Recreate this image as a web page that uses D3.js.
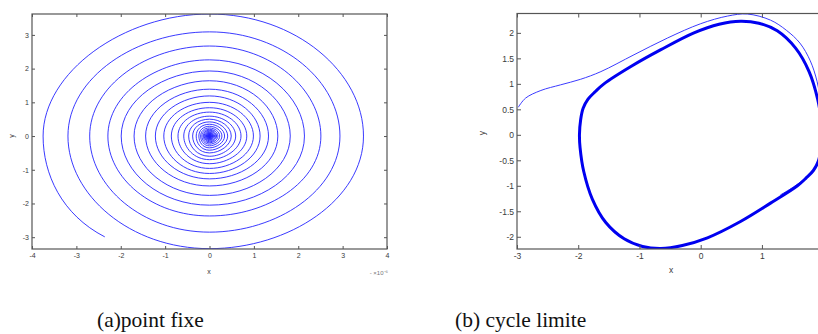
<!DOCTYPE html>
<html>
<head>
<meta charset="utf-8">
<script src="https://cdn.jsdelivr.net/npm/d3@7"></script>
<style>
  body { margin: 0; background: #fff; }
  svg { display: block; }
</style>
</head>
<body>
<svg id="chart" width="818" height="334"></svg>
<script>
// ---------- (a) point fixe : spiral phase portrait ----------
// Where the trajectory begins, then the axis crossings of every turn
const spiralStart = [-2.36, -2.99];
const spiralLeft   = [-3.75, -3.19, -2.70, -2.29, -1.99, -1.70, -1.44, -1.22, -1.03, -0.86, -0.71, -0.58, -0.47, -0.38, -0.30, -0.24, -0.20, -0.17, -0.14, -0.12, -0.10, -0.085, -0.072, -0.061, -0.052, -0.044, -0.037, -0.031, -0.026, -0.022, -0.019, -0.016, -0.013, -0.011];
const spiralTop    = [ 3.62,  3.09,  2.67,  2.26,  1.93,  1.64,  1.39,  1.19,  1.00,  0.84,  0.71,  0.59,  0.50,  0.42,  0.35,  0.29,  0.24,  0.20,  0.17,  0.145, 0.12,  0.10,   0.085,  0.072,  0.061,  0.052,  0.044,  0.037,  0.031,  0.026,  0.022,  0.019,  0.016,  0.013];
const spiralRight  = [ 3.47,  2.94,  2.51,  2.14,  1.82,  1.54,  1.33,  1.14,  0.99,  0.84,  0.71,  0.59,  0.49,  0.41,  0.34,  0.28,  0.23,  0.19,  0.16,  0.14,  0.115, 0.097,  0.082,  0.07,   0.059,  0.05,   0.042,  0.035,  0.03,   0.025,  0.021,  0.018,  0.015,  0.012];
const spiralBottom = [-3.34, -2.85, -2.37, -2.05, -1.76, -1.48, -1.27, -1.11, -0.96, -0.82, -0.70, -0.60, -0.50, -0.42, -0.35, -0.29, -0.24, -0.20, -0.17, -0.14, -0.115, -0.096, -0.081, -0.069, -0.058, -0.049, -0.041, -0.035, -0.029, -0.024, -0.02,  -0.017, -0.014, -0.012];
const fixedPoint = [0, 0];
const ticksAX = [-4, -3, -2, -1, 0, 1, 2, 3, 4];
const ticksAY = [-3, -2, -1, 0, 1, 2, 3];

// ---------- (b) cycle limite ----------
// Limit cycle, clockwise from its leftmost point
const cycleX = [-1.98, -1.96, -1.92, -1.84, -1.72, -1.58, -1.14, -0.65, -0.11, 0.30, 0.65, 0.95, 1.25, 1.55, 1.77, 1.91, 1.97,
                 1.98,  1.96,  1.92,  1.84,  1.72,  1.58,  1.14,  0.65,  0.11, -0.30, -0.65, -0.95, -1.25, -1.55, -1.77, -1.91, -1.97];
const cycleY = [ 0.00,  0.30,  0.52,  0.70,  0.85,  1.00,  1.34,  1.67,  2.00, 2.17, 2.23, 2.19, 2.04, 1.70, 1.24, 0.70, 0.25,
                 0.00, -0.30, -0.52, -0.70, -0.85, -1.00, -1.34, -1.70, -2.02, -2.17, -2.23, -2.19, -2.04, -1.72, -1.26, -0.72, -0.25];
// Transient coming in from the left before settling on the cycle
const transientX = [-2.98, -2.86, -2.61, -2.29, -1.96, -1.63, -1.09, -0.54, 0.00, 0.44, 0.76, 1.14, 1.40, 1.62, 1.79, 1.90, 1.97, 2.01, 2.01, 1.96, 1.87, 1.72, 1.52, 1.30];
const transientY = [ 0.54,  0.72,  0.87,  0.98,  1.09,  1.24,  1.57,  1.90, 2.18, 2.33, 2.37, 2.25, 2.05, 1.80, 1.45, 1.05, 0.60, 0.20, -0.15, -0.42, -0.64, -0.84, -1.02, -1.18];
const ticksBX = [-3, -2, -1, 0, 1];
const ticksBY = [-2, -1.5, -1, -0.5, 0, 0.5, 1, 1.5, 2];

const captions = ["(a)point fixe", "(b) cycle limite"];

const svg = d3.select("#chart");
const axisColor = "#555";
const labelColor = "#3a3a3a";

// Boxed axes with inward ticks on all four sides
function drawAxes(g, x, y, xt, yt, opt) {
  const [x0, x1] = x.range();
  const [y0, y1] = y.range();
  const tl = opt.tick;
  const bottom = d3.axisBottom(x).tickValues(xt).tickSizeInner(-tl).tickSizeOuter(0).tickPadding(opt.padX).tickFormat(d => String(d));
  const top = d3.axisTop(x).tickValues(xt).tickSizeInner(-tl).tickSizeOuter(0).tickFormat("");
  const left = d3.axisLeft(y).tickValues(yt).tickSizeInner(-tl).tickSizeOuter(0).tickPadding(opt.padY).tickFormat(d => String(d));
  const right = d3.axisRight(y).tickValues(yt).tickSizeInner(-tl).tickSizeOuter(0).tickFormat("");
  const parts = [
    g.append("g").attr("transform", `translate(0,${y0})`).call(bottom),
    g.append("g").attr("transform", `translate(0,${y1})`).call(top),
    g.append("g").attr("transform", `translate(${x0},0)`).call(left),
    g.append("g").attr("transform", `translate(${x1},0)`).call(right)
  ];
  parts.forEach(p => {
    p.select(".domain").remove();
    p.selectAll("line").attr("stroke", axisColor).attr("stroke-width", 1);
    p.selectAll("text")
      .attr("fill", labelColor)
      .style("font-family", "'Liberation Sans', Arial, sans-serif")
      .style("font-size", opt.font + "px");
  });
  g.append("rect")
    .attr("x", x0).attr("y", y1)
    .attr("width", x1 - x0).attr("height", y0 - y1)
    .attr("fill", "none").attr("stroke", axisColor).attr("stroke-width", 1.2);
}

function axisLabel(g, text, px, py, rotate, size) {
  g.append("text")
    .attr("transform", `translate(${px},${py})` + (rotate ? " rotate(-90)" : ""))
    .attr("text-anchor", "middle")
    .attr("fill", labelColor)
    .style("font-family", "'Liberation Sans', Arial, sans-serif")
    .style("font-size", size + "px")
    .text(text);
}

// Smooth spiral through the crossings: cardinal-style tangents (negative
// tension so each quarter turn stays close to an elliptic arc); the first
// crossing gets a vertical tangent spanning its own turn.
function spiralPathData(P) {
  const k = (1 + 0.62) / 6;
  const n = P.length;
  const tan = P.map((p, i) => {
    const a = P[Math.max(i - 1, 0)], b = P[Math.min(i + 1, n - 1)];
    return [k * (b[0] - a[0]), k * (b[1] - a[1])];
  });
  tan[1] = [0, k * (P[2][1] - P[4][1])];
  const path = d3.path();
  path.moveTo(P[0][0], P[0][1]);
  path.bezierCurveTo(
    P[0][0] + 0.7 * (P[1][0] - P[0][0]), P[0][1] + 0.22 * (P[1][1] - P[0][1]),
    P[1][0] - 0.6 * tan[1][0], P[1][1] - 0.6 * tan[1][1],
    P[1][0], P[1][1]);
  for (let i = 1; i < n - 1; i++) {
    path.bezierCurveTo(
      P[i][0] + tan[i][0], P[i][1] + tan[i][1],
      P[i + 1][0] - tan[i + 1][0], P[i + 1][1] - tan[i + 1][1],
      P[i + 1][0], P[i + 1][1]);
  }
  return path.toString();
}

// ---------- panel (a) ----------
{
  const g = svg.append("g");
  const x = d3.scaleLinear().domain([-4, 4]).range([32, 387]);
  const y = d3.scaleLinear().domain([-3.35, 3.62]).range([249, 14]);

  const pts = [spiralStart];
  spiralLeft.forEach((_, i) => {
    pts.push([spiralLeft[i], 0], [0, spiralTop[i]], [spiralRight[i], 0], [0, spiralBottom[i]]);
  });
  pts.push(fixedPoint);

  g.append("clipPath").attr("id", "clipA")
    .append("rect").attr("x", 32).attr("y", 14).attr("width", 355).attr("height", 235);

  g.append("path")
    .attr("clip-path", "url(#clipA)")
    .attr("fill", "none")
    .attr("stroke", "#2424ff")
    .attr("stroke-width", 0.9)
    .attr("d", spiralPathData(pts.map(d => [x(d[0]), y(d[1])])));

  drawAxes(g, x, y, ticksAX, ticksAY, { tick: 3, padX: 4, padY: 3, font: 7 });
  axisLabel(g, "x", 209, 274, false, 7);
  axisLabel(g, "y", 14, 136, true, 7);
  g.append("text")
    .attr("x", 388).attr("y", 275).attr("text-anchor", "end")
    .attr("fill", "#777")
    .style("font-family", "'Liberation Sans', Arial, sans-serif")
    .style("font-size", "6px")
    .text("- ×10⁻⁶");
}

// ---------- panel (b) ----------
{
  const g = svg.append("g");
  const x = d3.scaleLinear().domain([-3, 2.03]).range([517, 825]);
  const y = d3.scaleLinear().domain([-2.24, 2.38]).range([249, 13.5]);

  g.append("clipPath").attr("id", "clipB")
    .append("rect").attr("x", 517).attr("y", 13.5).attr("width", 308).attr("height", 235.5);

  const transient = transientX.map((v, i) => [v, transientY[i]]);
  g.append("path")
    .datum(transient)
    .attr("clip-path", "url(#clipB)")
    .attr("fill", "none")
    .attr("stroke", "#3b3bff")
    .attr("stroke-width", 1)
    .attr("d", d3.line().x(d => x(d[0])).y(d => y(d[1])).curve(d3.curveCatmullRom.alpha(0.5)));

  const cycle = cycleX.map((v, i) => [v, cycleY[i]]);
  g.append("path")
    .datum(cycle)
    .attr("clip-path", "url(#clipB)")
    .attr("fill", "none")
    .attr("stroke", "#0000f0")
    .attr("stroke-width", 3)
    .attr("d", d3.line().x(d => x(d[0])).y(d => y(d[1])).curve(d3.curveCatmullRomClosed.alpha(0.5)));

  drawAxes(g, x, y, ticksBX, ticksBY, { tick: 4, padX: 4, padY: 3, font: 8.5 });
  axisLabel(g, "x", 671, 273, false, 8.5);
  axisLabel(g, "y", 485, 133, true, 8.5);
}

// ---------- captions ----------
svg.append("text")
  .attr("x", 97).attr("y", 327)
  .style("font-family", "'Liberation Serif', 'Times New Roman', serif")
  .style("font-size", "21.5px")
  .attr("fill", "#111")
  .text(captions[0]);
svg.append("text")
  .attr("x", 455).attr("y", 327)
  .style("font-family", "'Liberation Serif', 'Times New Roman', serif")
  .style("font-size", "21.5px")
  .attr("fill", "#111")
  .text(captions[1]);
</script>
</body>
</html>
